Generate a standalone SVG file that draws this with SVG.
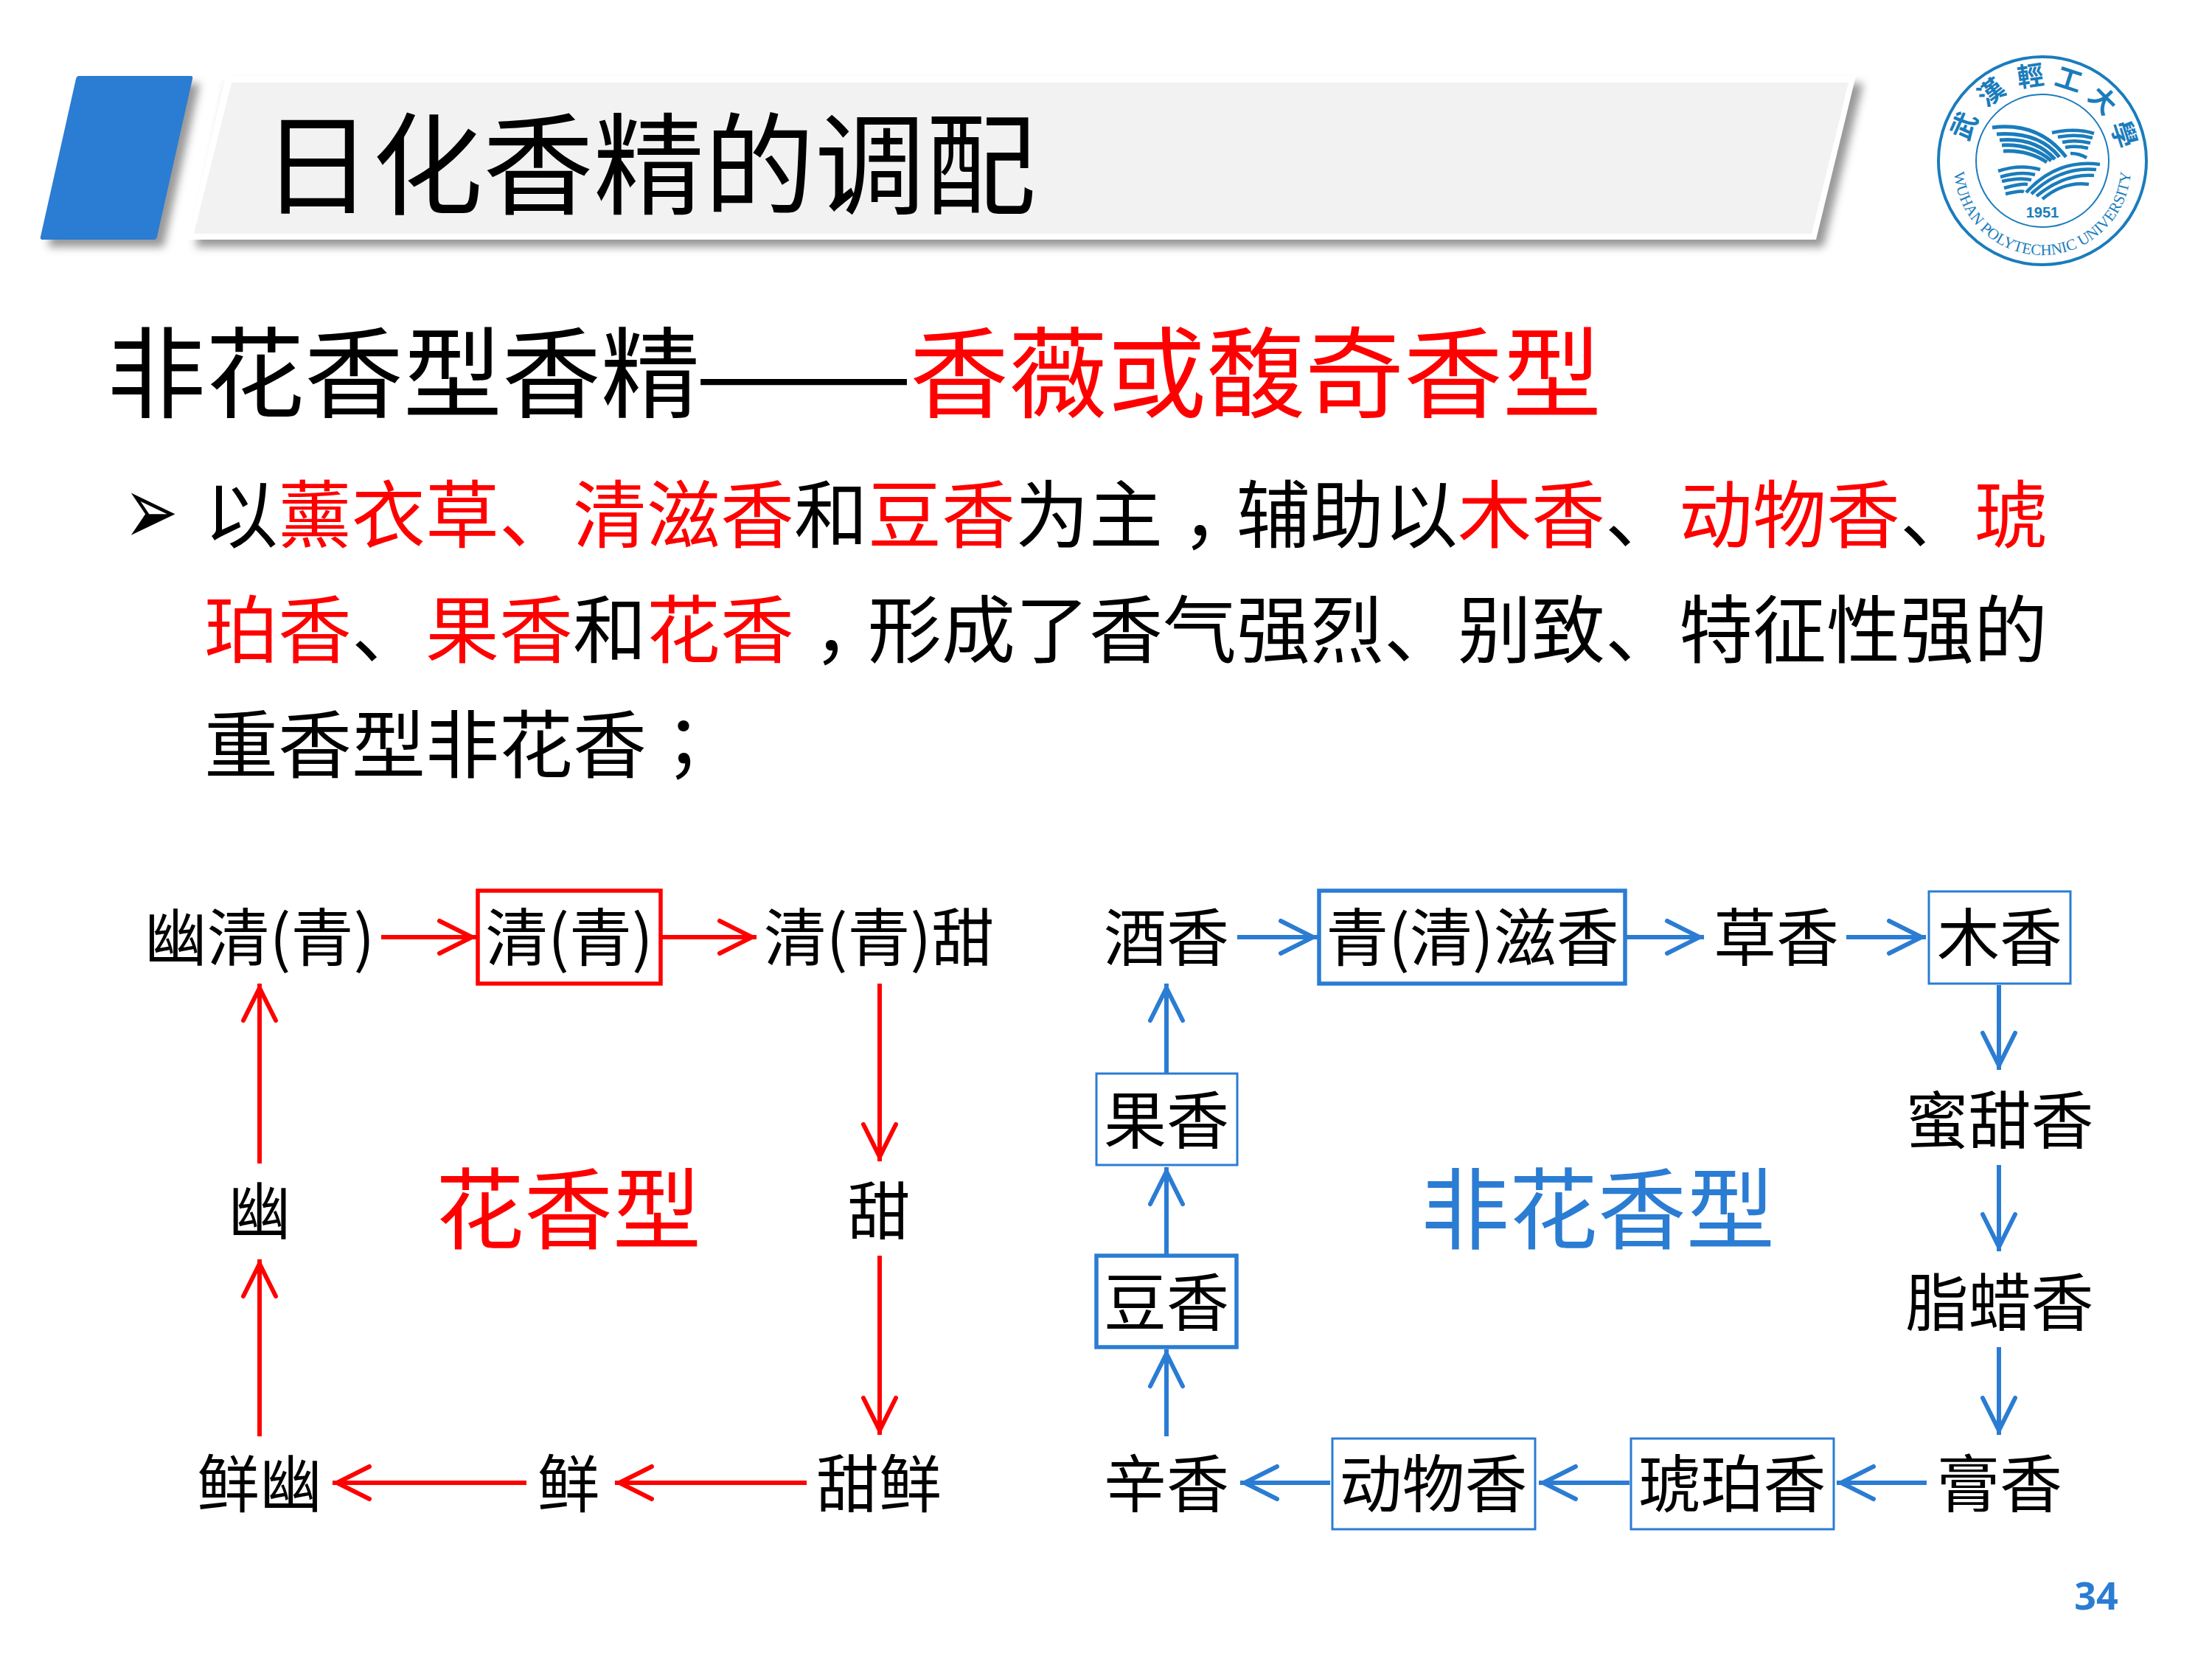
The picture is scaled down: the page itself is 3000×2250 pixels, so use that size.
<svg xmlns="http://www.w3.org/2000/svg" width="3000" height="2250" viewBox="0 0 3000 2250">
<style>
text{font-family:"Noto Sans CJK SC","Noto Sans",sans-serif;fill:#000}
.r{fill:#f00}
.b{fill:#2b7cd3}
.n{font-size:85px;text-anchor:middle}
.body{font-size:100px}
.head{font-size:134px}
.p{font-family:"Noto Sans CJK TC",sans-serif}
.cr{stroke:#f00;stroke-width:6;fill:none}
.cb{stroke:#2b7cd3;stroke-width:6;fill:none}
.mr{marker-end:url(#hr)}
.mb{marker-end:url(#hb)}
.box{fill:none;stroke:#2b7cd3;stroke-width:3}
.boxt{fill:none;stroke:#2b7cd3;stroke-width:5.5}
.lg{fill:none;stroke:#1a7cbc}
.lz{font-family:"Noto Sans CJK TC",sans-serif;font-size:36px;font-weight:700;text-anchor:middle;fill:#1a7cbc}
</style>
<defs>
<marker id="hr" markerUnits="userSpaceOnUse" markerWidth="60" markerHeight="60" refX="56" refY="30" orient="auto" overflow="visible"><path d="M6 8L50 30L6 52" fill="none" stroke="#f00" stroke-width="6" stroke-linecap="round"/></marker>
<marker id="hb" markerUnits="userSpaceOnUse" markerWidth="60" markerHeight="60" refX="56" refY="30" orient="auto" overflow="visible"><path d="M6 8L50 30L6 52" fill="none" stroke="#2b7cd3" stroke-width="6" stroke-linecap="round"/></marker>
<filter id="sh" x="-10%" y="-10%" width="120%" height="125%"><feGaussianBlur stdDeviation="6"/></filter>
<path id="arcBot" d="M2650 226A120 120 0 0 0 2890 226"/>
</defs>
<rect width="3000" height="2250" fill="#fff"/>
<g id="header">
<path d="M115 113H271L222 335H65Z" fill="#555" opacity=".6" filter="url(#sh)"/>
<path d="M107 103H259Q262 103 261 107L213 321Q212 325 209 325H58Q54 325 55 321L103 107Q104 103 107 103Z" fill="#2b7cd3"/>
<path d="M310 113H2527L2473 335H265Z" fill="#555" opacity=".6" filter="url(#sh)"/>
<path d="M306 103H2517L2463 325H255Z" fill="#fff"/>
<path d="M314 112H2507L2457 317H263Z" fill="#f2f2f2"/>
<text id="title" x="355" y="279" font-size="150">日化香精的调配</text>
</g>
<g id="logo">
<circle class="lg" cx="2770" cy="218" r="141" stroke-width="4"/>
<circle class="lg" cx="2770" cy="218" r="90" stroke-width="2"/>
<path class="lg" stroke-width="5" d="M2702 173Q2765 165 2802 213M2708 182Q2765 178 2793 213M2712 190Q2760 186 2787 216M2715 197Q2755 195 2782 218M2717 205Q2750 203 2776 220"/>
<path class="lg" stroke-width="4.5" d="M2783 180Q2815 173 2840 181M2791 186Q2815 181 2838 187M2797 193Q2815 189 2835 194M2801 200Q2815 197 2832 201M2808 208Q2820 208 2830 214"/>
<path class="lg" stroke-width="4.5" d="M2710 232Q2740 222 2767 230M2713 240Q2740 232 2760 237M2715 246Q2740 240 2755 244M2718 255Q2740 249 2750 250M2720 263Q2740 258 2745 260"/>
<path class="lg" stroke-width="4.5" d="M2748 261Q2790 215 2848 223M2755 263Q2795 225 2843 230M2762 266Q2800 235 2840 238M2770 270Q2800 245 2833 250"/>
<text x="2770" y="295" font-size="20" font-weight="700" text-anchor="middle" style="font-family:'Liberation Sans',sans-serif;fill:#1a7cbc">1951</text>
<text class="lz" x="2770" y="115" transform="rotate(-66 2770 218)">武</text>
<text class="lz" x="2770" y="115" transform="rotate(-37 2770 218)">漢</text>
<text class="lz" x="2770" y="115" transform="rotate(-8 2770 218)">輕</text>
<text class="lz" x="2770" y="115" transform="rotate(18 2770 218)">工</text>
<text class="lz" x="2770" y="115" transform="rotate(45 2770 218)">大</text>
<text class="lz" x="2770" y="115" transform="rotate(72 2770 218)">學</text>
<text font-size="21" style="fill:#1a7cbc;font-family:'Liberation Serif',serif"><textPath href="#arcBot" startOffset="50%" text-anchor="middle">WUHAN POLYTECHNIC UNIVERSITY</textPath></text>
</g>
<g id="heading">
<text class="head" x="145" y="556">非花香型香精</text>
<text class="head" x="942" y="556" textLength="296" lengthAdjust="spacingAndGlyphs">——</text>
<text class="head r" x="1234" y="556">香薇或馥奇香型</text>
</g>
<g id="bullets">
<text transform="translate(168 738) scale(1 1.48)" font-size="88" style="font-family:'DejaVu Sans',sans-serif">➢</text>
<text class="body" x="277" y="735">以<tspan class="r">薰衣草、清滋香</tspan>和<tspan class="r">豆香</tspan>为主<tspan class="p" dy="30">，</tspan><tspan dy="-30">辅助以</tspan><tspan class="r">木香</tspan>、<tspan class="r">动物香</tspan>、<tspan class="r">琥</tspan></text>
<text class="body" x="277" y="891"><tspan class="r">珀香</tspan>、<tspan class="r">果香</tspan>和<tspan class="r">花香</tspan><tspan class="p" dy="30">，</tspan><tspan dy="-30">形成了香气强烈、别致、特征性强的</tspan></text>
<text class="body" x="277" y="1047">重香型非花香<tspan class="p">；</tspan></text>
</g>
<g id="connectors">
<path class="cr mr" d="M517 1271H646"/>
<path class="cr mr" d="M898 1271H1026"/>
<path class="cr mr" d="M1193 1334V1575"/>
<path class="cr mr" d="M1193 1703V1946"/>
<path class="cr mr" d="M1094 2011H834"/>
<path class="cr mr" d="M714 2011H451"/>
<path class="cr mr" d="M352 1948V1708"/>
<path class="cr mr" d="M352 1578V1334"/>
<path class="cb mb" d="M1678 1271H1787"/>
<path class="cb mb" d="M2206 1271H2311"/>
<path class="cb mb" d="M2504 1271H2612"/>
<path class="cb mb" d="M2711 1336V1451"/>
<path class="cb mb" d="M2711 1580V1697"/>
<path class="cb mb" d="M2711 1827V1946"/>
<path class="cb mb" d="M2613 2011H2491"/>
<path class="cb mb" d="M2210 2011H2087"/>
<path class="cb mb" d="M1804 2011H1682"/>
<path class="cb mb" d="M1582 1948V1830"/>
<path class="cb mb" d="M1582 1701V1583"/>
<path class="cb mb" d="M1582 1455V1334"/>
</g>
<g id="n1"><text class="n" x="352" y="1303">幽清(青)</text></g>
<g id="n2"><rect x="648" y="1208" width="248" height="126" fill="none" stroke="#f00" stroke-width="5.5"/><text class="n" x="772" y="1303">清(青)</text></g>
<g id="n3"><text class="n" x="1192" y="1303">清(青)甜</text></g>
<g id="n4"><text class="n" x="1192" y="1674">甜</text></g>
<g id="n5"><text class="n" x="1192" y="2044">甜鲜</text></g>
<g id="n6"><text class="n" x="771" y="2044">鲜</text></g>
<g id="n7"><text class="n" x="352" y="2044">鲜幽</text></g>
<g id="n8"><text class="n" x="352" y="1674">幽</text></g>
<g id="label1"><text class="r" x="771" y="1685" font-size="120" text-anchor="middle">花香型</text></g>
<g id="m1"><text class="n" x="1582" y="1303">酒香</text></g>
<g id="m2"><rect class="boxt" x="1789" y="1208" width="415" height="126"/><text class="n" x="1997" y="1303">青(清)滋香</text></g>
<g id="m3"><text class="n" x="2409" y="1303">草香</text></g>
<g id="m4"><rect class="box" x="2616" y="1209" width="192" height="125"/><text class="n" x="2712" y="1303">木香</text></g>
<g id="m5"><text class="n" x="2712" y="1551">蜜甜香</text></g>
<g id="m6"><text class="n" x="2712" y="1798">脂蜡香</text></g>
<g id="m7"><text class="n" x="2712" y="2044">膏香</text></g>
<g id="m8"><rect class="box" x="2212" y="1951" width="275" height="123"/><text class="n" x="2349" y="2044">琥珀香</text></g>
<g id="m9"><rect class="box" x="1807" y="1951" width="275" height="123"/><text class="n" x="1944" y="2044">动物香</text></g>
<g id="m10"><text class="n" x="1582" y="2044">辛香</text></g>
<g id="m11"><rect class="boxt" x="1487" y="1703" width="190" height="124"/><text class="n" x="1582" y="1798">豆香</text></g>
<g id="m12"><rect class="box" x="1487" y="1456" width="191" height="124"/><text class="n" x="1582" y="1551">果香</text></g>
<g id="label2"><text class="b" x="2167" y="1685" font-size="120" text-anchor="middle">非花香型</text></g>
<text id="page" x="2843" y="2183" font-size="52" font-weight="700" text-anchor="middle" style="font-family:'Open Sans',sans-serif;fill:#2b7cd3">34</text>
</svg>
